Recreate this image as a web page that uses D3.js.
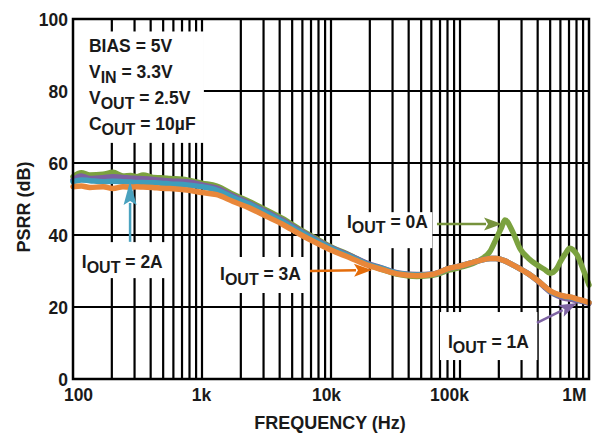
<!DOCTYPE html>
<html><head><meta charset="utf-8">
<script src="https://cdn.jsdelivr.net/npm/d3@7"></script>
<style>
body{margin:0;background:#fff;}
svg text{font-family:"Liberation Sans",Arial,sans-serif;font-weight:bold;fill:#1a1a1a;}
</style></head><body>
<svg id="c" width="611" height="437"></svg>
<script>
// ---------- data ----------
const frequencies = [100,116,135,171,204,244,280,313,349,417,480,564,764,1000,1300,1740,2300,3190,4200,5740,7600,10300,14000,18900,25000,34000,46400,61600,83300,100000,141000,172000,190000,211000,223000,256000,292000,340000,395000,450000,500000,565000,600000,650000,710000,750000,810000,900000,1000000];
const psrr0A = [56.2,57.3,56.7,56.9,57.4,56.4,56.5,56.2,56.7,56.0,55.9,55.7,55.3,54.4,53.6,51.3,49.4,46.8,44.6,41.6,39.1,36.5,34.4,32.0,30.4,29.0,28.5,28.8,30.3,31.0,33.0,35.6,38.8,42.3,44.2,40.9,36.2,33.5,31.7,30.5,29.4,30.8,32.6,34.6,36.3,35.9,34.4,30.5,26.1];
const psrr1A = [55.3,56.4,55.7,55.9,56.2,56.0,55.8,55.7,55.6,55.4,55.2,55.0,54.8,53.9,53.0,50.8,48.9,46.3,44.1,41.2,38.8,36.3,34.3,32.2,30.8,29.4,29.0,29.2,30.8,31.4,32.9,33.5,33.5,33.1,32.8,31.7,30.6,29.2,27.4,25.6,24.2,23.2,22.8,22.4,22.2,22.0,21.8,21.5,21.0];
const psrr2A = [54.8,55.3,55.1,54.8,54.9,54.8,54.7,54.6,54.6,54.5,54.4,54.2,53.9,53.4,52.5,50.4,48.6,46.0,43.8,40.9,38.5,36.1,34.1,32.0,30.7,29.3,28.9,29.1,30.8,31.4,32.9,33.5,33.5,33.1,32.8,31.7,30.6,29.2,27.5,25.8,24.4,23.5,23.2,22.9,22.7,22.5,22.1,21.7,21.2];
const psrr3A = [53.4,53.6,53.2,53.4,52.9,53.4,53.3,53.4,53.3,53.2,53.0,52.9,52.5,51.8,51.2,49.3,47.6,45.1,43.0,40.2,37.9,35.6,33.7,31.7,30.4,29.1,28.7,29.1,30.8,31.4,32.9,33.5,33.5,33.1,32.8,31.7,30.6,29.2,27.5,25.8,24.5,23.6,23.3,23.0,22.8,22.6,22.2,21.8,21.2];
const seriesNames = ["IOUT = 0A","IOUT = 1A","IOUT = 2A","IOUT = 3A"];
const yTickValues = [0,20,40,60,80,100];
const xTickValues = [100,1e3,1e4,1e5,1e6];
const xTickLabels = ["100","1k","10k","100k","1M"];
const conditionLines = [["BIAS = 5V","",""],["V","IN"," = 3.3V"],["V","OUT"," = 2.5V"],["C","OUT"," = 10\u00b5F"]];

// ---------- layout / style ----------
const W = 611, H = 437;
const m = {left:73, top:19, right:22, bottom:58};
const iw = W - m.left - m.right, ih = H - m.top - m.bottom;
const colors = ["#7ba23f","#7d60a0","#3f9dba","#e8873a"];
const arrowColors = ["#76923c","#7e63a3","#4aa2bf","#e46c0a"];
const labelNudge = [5,-1,-5,-11,-15];

const svg = d3.select("#c");
const g = svg.append("g").attr("transform",`translate(${m.left},${m.top})`);
const x = d3.scaleLog().domain([100,1e6]).range([0,iw]);
const y = d3.scaleLinear().domain([0,100]).range([ih,0]);

// grid
const minor = [];
for (let k=2;k<=5;k++) for (let j=1;j<=9;j++) minor.push(j*Math.pow(10,k));
g.append("g").selectAll("line").data(minor.filter(f=>f>100&&f<1e6)).join("line")
  .attr("x1",d=>x(d)).attr("x2",d=>x(d)).attr("y1",0).attr("y2",ih)
  .attr("stroke","#000").attr("stroke-width",2.2);
g.append("g").selectAll("line").data([20,40,60,80]).join("line")
  .attr("x1",0).attr("x2",iw).attr("y1",d=>y(d)).attr("y2",d=>y(d))
  .attr("stroke","#000").attr("stroke-width",2.2);

const boxLayer = g.append("g");
const curveLayer = g.append("g");
const frameLayer = g.append("g");
const annLayer = g.append("g");

// curves
const allSeries = [psrr0A,psrr1A,psrr2A,psrr3A];
const line = d3.line().x((d,i)=>x(frequencies[i])).y(d=>y(d)).curve(d3.curveMonotoneX);
curveLayer.selectAll("path").data(allSeries).join("path")
  .attr("d",d=>line(d)).attr("fill","none")
  .attr("stroke",(d,i)=>colors[i]).attr("stroke-width",5.5)
  .attr("stroke-linejoin","round").attr("stroke-linecap","round");

// frame
frameLayer.append("rect").attr("x",0).attr("y",0).attr("width",iw).attr("height",ih)
  .attr("fill","none").attr("stroke","#000").attr("stroke-width",2.5);

// axes
const xa = svg.append("g").attr("transform",`translate(${m.left},${m.top+ih})`)
  .call(d3.axisBottom(x).tickValues(xTickValues).tickFormat((d,i)=>xTickLabels[i]).tickSize(0).tickPadding(10));
xa.select(".domain").remove();
xa.selectAll("text").attr("font-size",17.5).attr("dx",(d,i)=>labelNudge[i]).attr("fill","#1a1a1a");
const ya = svg.append("g").attr("transform",`translate(${m.left},${m.top})`)
  .call(d3.axisLeft(y).tickValues(yTickValues).tickSize(0).tickPadding(5));
ya.select(".domain").remove();
ya.selectAll("text").attr("font-size",17.5).attr("dy","0.36em").attr("fill","#1a1a1a");

svg.append("text").attr("transform",`translate(30,${m.top+188}) rotate(-90)`)
  .attr("text-anchor","middle").attr("font-size",18).text("PSRR (dB)");
svg.append("text").attr("x",330).attr("y",429)
  .attr("text-anchor","middle").attr("font-size",18).text("FREQUENCY (Hz)");

function subText(sel, parts, fs){
  sel.append("tspan").text(parts[0]);
  if (parts[1]) {
    sel.append("tspan").attr("dy",5).attr("font-size",fs-1.5).text(parts[1]);
    sel.append("tspan").attr("dy",-5).text(parts[2]);
  }
}
function addBox(textSel, pad){
  const b = textSel.node().getBBox();
  boxLayer.append("rect").attr("x",b.x-pad[0]).attr("y",b.y-pad[1])
    .attr("width",b.width+pad[0]+pad[2]).attr("height",b.height+pad[1]+pad[3]).attr("fill","#fff");
}

// conditions block
const condNodes = [];
conditionLines.forEach((p,i)=>{
  const t = annLayer.append("text").attr("font-size",17.5)
    .attr("x",x(133)).attr("y",y(90.7) + i*25.8);
  subText(t,p,17.5);
  condNodes.push(t.node());
});
{
  let y0=1e9,x1=-1e9,y1=-1e9;
  condNodes.forEach(n=>{const b=n.getBBox();y0=Math.min(y0,b.y);x1=Math.max(x1,b.x+b.width);y1=Math.max(y1,b.y+b.height);});
  boxLayer.append("rect").attr("x",0).attr("y",y0-5).attr("width",x1+8).attr("height",y1-y0+10).attr("fill","#fff");
}

// series annotations
const annotations = [
  {s:0, parts:["I","OUT"," = 0A"], at:[13300,41.9], from:[66300,43.06], to:[211700,43.06], pad:[7,0,4,12]},
  {s:1, parts:["I","OUT"," = 1A"], at:[80700,8.6], from:[395000,15.6], to:[807000,21.1], pad:[8,20,8,4]},
  {s:2, parts:["I","OUT"," = 2A"], at:[117,30.8], from:[277,38.1], to:[277,55.0], pad:[9,10,3,2]},
  {s:3, parts:["I","OUT"," = 3A"], at:[1379,27.5], from:[6877,30.0], to:[20790,30.3], pad:[10,7,5,5]}
];
annotations.forEach(a=>{
  const t = annLayer.append("text").attr("font-size",17.5).attr("x",x(a.at[0])).attr("y",y(a.at[1]));
  subText(t,a.parts,17.5);
  addBox(t,a.pad);
  const x1=x(a.from[0]), y1=y(a.from[1]), x2=x(a.to[0]), y2=y(a.to[1]);
  const len = Math.hypot(x2-x1,y2-y1), ux=(x2-x1)/len, uy=(y2-y1)/len;
  const hl = a.s===2?24:18, hw = 6.5;
  const bx = x2-ux*hl, by = y2-uy*hl;
  annLayer.append("line").attr("x1",x1).attr("y1",y1).attr("x2",bx+ux*2).attr("y2",by+uy*2)
    .attr("stroke",arrowColors[a.s]).attr("stroke-width",2.5);
  annLayer.append("path")
    .attr("d",`M${x2},${y2}L${bx-uy*hw},${by+ux*hw}L${bx+ux*4},${by+uy*4}L${bx+uy*hw},${by-ux*hw}Z`)
    .attr("fill",arrowColors[a.s]);
});
</script>
</body></html>
